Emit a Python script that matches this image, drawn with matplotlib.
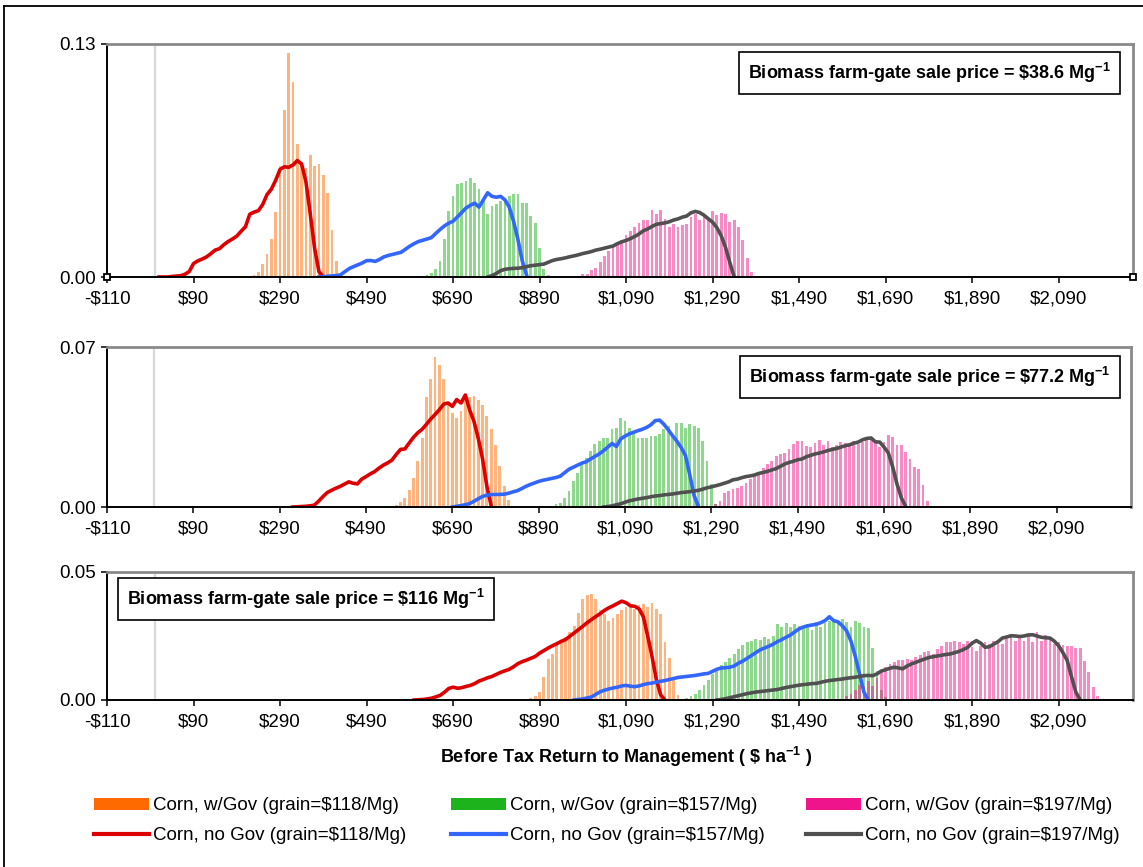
import numpy as np
import matplotlib
matplotlib.use("Agg")
import matplotlib.pyplot as plt
from matplotlib.patches import Patch
from matplotlib.lines import Line2D

plt.rcParams["font.family"] = ["Liberation Sans", "DejaVu Sans"]
plt.rcParams["mathtext.fontset"] = "custom"
plt.rcParams["mathtext.rm"] = "Liberation Sans"
plt.rcParams["mathtext.bf"] = "Liberation Sans:bold"

BIN = 10  # width of one return class, $ ha-1

# ---------------------------------------------------------------- x axis
tick_values = [-110, 90, 290, 490, 690, 890, 1090, 1290, 1490, 1690, 1890, 2090]
tick_labels = ["-\\$110", "\\$90", "\\$290", "\\$490", "\\$690", "\\$890", "\\$1,090",
               "\\$1,290", "\\$1,490", "\\$1,690", "\\$1,890", "\\$2,090"]
x_range = (-110, 2262)

# ---------------------------------------------------------------- panel 1 ($38.6 Mg-1)
orange1_from = 230
orange1 = [0.001, 0.003, 0.007, 0.013, 0.021, 0.036, 0.062, 0.093, 0.125, 0.109,
           0.074, 0.064, 0.061, 0.068, 0.062, 0.063, 0.057, 0.047, 0.026, 0.009]
green1_from = 620
green1 = [0.0006, 0.0011, 0.0024, 0.0043, 0.0089, 0.0210, 0.0368, 0.0450, 0.0517, 0.0526,
          0.0536, 0.0554, 0.0526, 0.0490, 0.0424, 0.0350, 0.0396, 0.0405, 0.0424, 0.0424,
          0.0452, 0.0461, 0.0461, 0.0415, 0.0415, 0.0340, 0.0303, 0.0164, 0.0043, 0.0009]
pink1_from = 990
pink1 = [0.0015, 0.0019, 0.0037, 0.0052, 0.0084, 0.0115, 0.0145, 0.0167, 0.0186, 0.0205,
         0.0233, 0.0257, 0.0279, 0.0301, 0.0316, 0.0316, 0.0376, 0.0353, 0.0376, 0.0326,
         0.0279, 0.0298, 0.0279, 0.0288, 0.0298, 0.0335, 0.0353, 0.0316, 0.0335, 0.0326,
         0.0368, 0.0344, 0.0357, 0.0353, 0.0307, 0.0316, 0.0279, 0.0208, 0.0108, 0.0028]
red1_from = 10
red1 = [0.0, 0.0, 0.0, 0.0003, 0.0005, 0.0007, 0.0015, 0.003, 0.0075, 0.009,
        0.010, 0.0112, 0.013, 0.0150, 0.0158, 0.018, 0.0198, 0.0212, 0.0228, 0.0255,
        0.028, 0.035, 0.0362, 0.037, 0.0405, 0.046, 0.049, 0.054, 0.060, 0.0615,
        0.0612, 0.0625, 0.065, 0.063, 0.053, 0.035, 0.016, 0.003, 0.0]
blue1_from = 380
blue1 = [0.0, 0.0002, 0.0004, 0.0006, 0.0008, 0.0012, 0.003, 0.0047, 0.0058, 0.0068,
         0.0078, 0.0091, 0.0092, 0.0087, 0.0098, 0.0112, 0.012, 0.0126, 0.0132, 0.0138,
         0.0155, 0.0172, 0.0186, 0.0198, 0.0205, 0.0212, 0.022, 0.0243, 0.0265, 0.0285,
         0.030, 0.0311, 0.0335, 0.036, 0.0385, 0.040, 0.0412, 0.039, 0.043, 0.047,
         0.045, 0.0445, 0.045, 0.043, 0.039, 0.031, 0.021, 0.009, 0.001]
gray1_from = 770
gray1 = [0.0, 0.0008, 0.002, 0.0035, 0.0043, 0.0046, 0.0048, 0.0049, 0.0052, 0.0058,
         0.0063, 0.0066, 0.0069, 0.0072, 0.0082, 0.0092, 0.0098, 0.0102, 0.0107, 0.0113,
         0.0118, 0.0124, 0.0131, 0.0136, 0.0142, 0.0150, 0.0155, 0.0161, 0.0167, 0.0173,
         0.0186, 0.0196, 0.0204, 0.0214, 0.0226, 0.0240, 0.0258, 0.0268, 0.0282, 0.0294,
         0.0298, 0.0302, 0.0308, 0.0318, 0.0324, 0.0334, 0.0340, 0.0358, 0.0366, 0.0360,
         0.0345, 0.0325, 0.0306, 0.0275, 0.0230, 0.0165, 0.0080, 0.0]

# ---------------------------------------------------------------- panel 2 ($77.2 Mg-1)
orange2_from = 540
orange2 = [0.0003, 0.0005, 0.0010, 0.0020, 0.0040, 0.0075, 0.0125, 0.0200, 0.0300, 0.0480,
           0.0560, 0.0655, 0.0620, 0.0560, 0.0450, 0.0410, 0.0390, 0.0420, 0.0470, 0.0480,
           0.0485, 0.0470, 0.0445, 0.0400, 0.0340, 0.0270, 0.0180, 0.0090, 0.0030]
green2_from = 920
green2 = [0.0004, 0.0012, 0.0019, 0.0041, 0.0070, 0.0114, 0.0150, 0.0187, 0.0216, 0.0245,
          0.0274, 0.0289, 0.0303, 0.0303, 0.0340, 0.0347, 0.0391, 0.0376, 0.0347, 0.0332,
          0.0303, 0.0303, 0.0303, 0.0310, 0.0310, 0.0318, 0.0340, 0.0354, 0.0318, 0.0369,
          0.0369, 0.0347, 0.0361, 0.0354, 0.0347, 0.0289, 0.0201, 0.0099, 0.0012]
pink2_from = 1300
pink2 = [0.0012, 0.0026, 0.0063, 0.0070, 0.0077, 0.0085, 0.0092, 0.0106, 0.0121, 0.0135,
         0.0150, 0.0172, 0.0187, 0.0201, 0.0223, 0.0230, 0.0238, 0.0252, 0.0274, 0.0289,
         0.0289, 0.0267, 0.0262, 0.0280, 0.0295, 0.0272, 0.0290, 0.0262, 0.0270, 0.0285,
         0.0278, 0.0265, 0.0290, 0.0277, 0.0284, 0.0299, 0.0292, 0.0284, 0.0262, 0.0284,
         0.0315, 0.0306, 0.0270, 0.0270, 0.0241, 0.0211, 0.0175, 0.0168, 0.0095, 0.0025]
red2_from = 320
red2 = [0.0, 0.0001, 0.0002, 0.0003, 0.0005, 0.0008, 0.0025, 0.0045, 0.0063, 0.0073,
        0.0082, 0.0090, 0.0100, 0.0110, 0.0104, 0.0101, 0.0122, 0.0133, 0.0145, 0.0155,
        0.0170, 0.0183, 0.0193, 0.0205, 0.0230, 0.0252, 0.0254, 0.0280, 0.0305, 0.0325,
        0.0340, 0.0362, 0.0385, 0.0405, 0.0426, 0.0450, 0.0455, 0.0440, 0.0470, 0.0455,
        0.0490, 0.0425, 0.0375, 0.0300, 0.0210, 0.0090, 0.0005]
blue2_from = 690
blue2 = [0.0, 0.0003, 0.0006, 0.0010, 0.0015, 0.0025, 0.0036, 0.0046, 0.0052, 0.0054,
         0.0055, 0.0055, 0.0056, 0.0060, 0.0066, 0.0071, 0.0080, 0.0090, 0.0098, 0.0105,
         0.0112, 0.0117, 0.0121, 0.0125, 0.0129, 0.0135, 0.0150, 0.0165, 0.0174, 0.0183,
         0.0192, 0.0198, 0.0210, 0.0221, 0.0232, 0.0246, 0.0262, 0.0278, 0.0265, 0.0298,
         0.0310, 0.0320, 0.0327, 0.0334, 0.0340, 0.0348, 0.0360, 0.0378, 0.0380, 0.0362,
         0.0338, 0.0312, 0.0288, 0.0260, 0.0225, 0.0140, 0.0050, 0.0002]
gray2_from = 1040
gray2 = [0.0, 0.0002, 0.0005, 0.0010, 0.0014, 0.0021, 0.0027, 0.0031, 0.0035, 0.0038,
         0.0041, 0.0045, 0.0048, 0.0050, 0.0053, 0.0055, 0.0057, 0.0060, 0.0063, 0.0065,
         0.0067, 0.0070, 0.0073, 0.0078, 0.0084, 0.0088, 0.0093, 0.0098, 0.0104, 0.0110,
         0.0119, 0.0122, 0.0128, 0.0133, 0.0136, 0.0140, 0.0147, 0.0151, 0.0156, 0.0162,
         0.0168, 0.0178, 0.0188, 0.0195, 0.0200, 0.0207, 0.0210, 0.0220, 0.0226, 0.0232,
         0.0236, 0.0241, 0.0247, 0.0252, 0.0256, 0.0262, 0.0268, 0.0272, 0.0279, 0.0284,
         0.0294, 0.0300, 0.0302, 0.0285, 0.0284, 0.0262, 0.0236, 0.0175, 0.0100, 0.0040,
         0.0003]

# ---------------------------------------------------------------- panel 3 ($116 Mg-1)
orange3_from = 870
orange3 = [0.0008, 0.0015, 0.0030, 0.0090, 0.0160, 0.0180, 0.0215, 0.0235, 0.0245, 0.0265,
           0.0290, 0.0340, 0.0395, 0.0410, 0.0415, 0.0395, 0.0350, 0.0335, 0.0310, 0.0320,
           0.0335, 0.0350, 0.0365, 0.0365, 0.0355, 0.0370, 0.0375, 0.0365, 0.0380, 0.0355,
           0.0335, 0.0225, 0.0165, 0.0080, 0.0020]
green3_from = 1230
green3 = [0.0008, 0.0015, 0.0025, 0.0040, 0.0060, 0.0080, 0.0100, 0.0120, 0.0135, 0.0150,
          0.0165, 0.0180, 0.0200, 0.0215, 0.0225, 0.0232, 0.0240, 0.0236, 0.0245, 0.0240,
          0.0250, 0.0295, 0.0285, 0.0300, 0.0285, 0.0295, 0.0290, 0.0280, 0.0295, 0.0275,
          0.0305, 0.0285, 0.0300, 0.0310, 0.0305, 0.0310, 0.0315, 0.0305, 0.0285, 0.0310,
          0.0300, 0.0285, 0.0280, 0.0205, 0.0115, 0.0040, 0.0010]
pink3_from = 1600
pink3 = [0.0015, 0.0025, 0.0040, 0.0060, 0.0055, 0.0075, 0.0055, 0.0085, 0.0115, 0.0128,
         0.0140, 0.0148, 0.0155, 0.0155, 0.0160, 0.0155, 0.0168, 0.0175, 0.0187, 0.0193,
         0.0180, 0.0200, 0.0212, 0.0225, 0.0225, 0.0232, 0.0225, 0.0218, 0.0232, 0.0206,
         0.0193, 0.0212, 0.0225, 0.0218, 0.0232, 0.0225, 0.0218, 0.0238, 0.0245, 0.0232,
         0.0242, 0.0232, 0.0249, 0.0225, 0.0265, 0.0232, 0.0252, 0.0238, 0.0218, 0.0225,
         0.0215, 0.0210, 0.0212, 0.0205, 0.0205, 0.0154, 0.0108, 0.0050, 0.0017]
red3_from = 600
red3 = [0.0, 0.0001, 0.0002, 0.0004, 0.0007, 0.0012, 0.0018, 0.0030, 0.0045, 0.0050,
        0.0046, 0.0048, 0.0053, 0.0057, 0.0064, 0.0074, 0.0080, 0.0087, 0.0092, 0.0100,
        0.0108, 0.0114, 0.0120, 0.0130, 0.0142, 0.0150, 0.0156, 0.0163, 0.0170, 0.0183,
        0.0193, 0.0203, 0.0212, 0.0220, 0.0229, 0.0236, 0.0249, 0.0262, 0.0275, 0.0288,
        0.0302, 0.0314, 0.0326, 0.0337, 0.0350, 0.0360, 0.0368, 0.0377, 0.0386, 0.0380,
        0.0368, 0.0366, 0.0356, 0.0325, 0.0250, 0.0170, 0.0080, 0.0020, 0.0]
blue3_from = 970
blue3 = [0.0, 0.0002, 0.0004, 0.0008, 0.0012, 0.0022, 0.0032, 0.0038, 0.0043, 0.0047,
         0.0050, 0.0055, 0.0057, 0.0054, 0.0052, 0.0055, 0.0060, 0.0064, 0.0066, 0.0070,
         0.0073, 0.0076, 0.0080, 0.0084, 0.0088, 0.0090, 0.0092, 0.0094, 0.0096, 0.0099,
         0.0102, 0.0104, 0.0112, 0.0120, 0.0125, 0.0126, 0.0128, 0.0133, 0.0144, 0.0152,
         0.0163, 0.0174, 0.0185, 0.0196, 0.0203, 0.0210, 0.0218, 0.0228, 0.0236, 0.0245,
         0.0254, 0.0266, 0.0278, 0.0285, 0.0290, 0.0293, 0.0296, 0.0302, 0.0310, 0.0325,
         0.0310, 0.0305, 0.0290, 0.0270, 0.0230, 0.0170, 0.0100, 0.0030, 0.0]
gray3_from = 1300
gray3 = [0.0, 0.0002, 0.0005, 0.0009, 0.0013, 0.0017, 0.0021, 0.0025, 0.0028, 0.0031,
         0.0033, 0.0035, 0.0037, 0.0039, 0.0041, 0.0045, 0.0049, 0.0052, 0.0055, 0.0058,
         0.0060, 0.0062, 0.0064, 0.0065, 0.0069, 0.0073, 0.0076, 0.0078, 0.0080, 0.0082,
         0.0085, 0.0087, 0.0089, 0.0092, 0.0095, 0.0096, 0.0095, 0.0102, 0.0113, 0.0118,
         0.0124, 0.0128, 0.0125, 0.0122, 0.0133, 0.0141, 0.0147, 0.0154, 0.0160, 0.0166,
         0.0169, 0.0172, 0.0175, 0.0178, 0.0180, 0.0185, 0.0190, 0.0197, 0.0206, 0.0222,
         0.0232, 0.0222, 0.0206, 0.0208, 0.0218, 0.0228, 0.0242, 0.0246, 0.0251, 0.0250,
         0.0248, 0.0250, 0.0254, 0.0255, 0.0250, 0.0245, 0.0243, 0.0242, 0.0230, 0.0212,
         0.0185, 0.0154, 0.0090, 0.0030, 0.0]

# ---------------------------------------------------------------- labels
panel_ymax = [0.13, 0.07, 0.05]
panel_ytick_labels = [["0.00", "0.13"], ["0.00", "0.07"], ["0.00", "0.05"]]
price_labels = ["\\$38.6", "\\$77.2", "\\$116"]
series_labels = ["Corn, w/Gov (grain=\\$118/Mg)", "Corn, no Gov (grain=\\$118/Mg)",
                 "Corn, w/Gov (grain=\\$157/Mg)", "Corn, no Gov (grain=\\$157/Mg)",
                 "Corn, w/Gov (grain=\\$197/Mg)", "Corn, no Gov (grain=\\$197/Mg)"]
x_title = "Before Tax Return to Management ( \\$ ha$^{\\mathbf{-1}}$ )"

# ---------------------------------------------------------------- style
BAR_COLORS = ["#FF6A00", "#1DB31D", "#F0148C"]
LINE_COLORS = ["#DD0000", "#3366FF", "#505050"]
W, H = 1143, 867


def fig_rect(left, top, right, bottom):
    return [left / W, 1 - bottom / H, (right - left) / W, (bottom - top) / H]


fig = plt.figure(figsize=(W / 100, H / 100), dpi=100)
fig.patch.set_facecolor("white")

# outer frame
fig.add_artist(Line2D([4 / W, 4 / W], [0, 1 - 6 / H], transform=fig.transFigure,
                      color="black", lw=1.3))
fig.add_artist(Line2D([4 / W, 1], [1 - 6 / H, 1 - 6 / H], transform=fig.transFigure,
                      color="black", lw=1.3))

panels = [
    dict(rect=fig_rect(107, 44, 1133, 277),
         bars=[(orange1_from, orange1), (green1_from, green1), (pink1_from, pink1)],
         lines=[(red1_from, red1), (blue1_from, blue1), (gray1_from, gray1)],
         box=(0.9786, 0.876, "right")),
    dict(rect=fig_rect(107, 347, 1131, 507),
         bars=[(orange2_from, orange2), (green2_from, green2), (pink2_from, pink2)],
         lines=[(red2_from, red2), (blue2_from, blue2), (gray2_from, gray2)],
         box=(0.980, 0.8125, "right")),
    dict(rect=fig_rect(107, 572, 1133, 700),
         bars=[(orange3_from, orange3), (green3_from, green3), (pink3_from, pink3)],
         lines=[(red3_from, red3), (blue3_from, blue3), (gray3_from, gray3)],
         box=(0.0195, 0.789, "left")),
]

for i, p in enumerate(panels):
    ax = fig.add_axes(p["rect"])
    ax.set_xlim(*x_range)
    ax.set_ylim(0, panel_ymax[i])

    for (start, vals), c in zip(p["bars"], BAR_COLORS):
        x = start + BIN * np.arange(len(vals))
        ax.bar(x, vals, width=BIN * 0.65, color=c, alpha=0.5, linewidth=0, zorder=2)
    for (start, vals), c in zip(p["lines"], LINE_COLORS):
        x = start + BIN * np.arange(len(vals))
        ax.plot(x, vals, color=c, lw=2.6, solid_joinstyle="round", zorder=4)

    ax.axvline(0, color="#D8D8D8", lw=1.6, zorder=1)

    for side in ("top", "right"):
        ax.spines[side].set_color("#8A8A8A")
        ax.spines[side].set_linewidth(2.0)
    for side in ("left", "bottom"):
        ax.spines[side].set_color("black")
        ax.spines[side].set_linewidth(1.4)
    ax.spines["bottom"].set_zorder(5)

    ax.set_xticks(tick_values)
    ax.set_xticklabels(tick_labels)
    ax.set_yticks([0, panel_ymax[i]])
    ax.set_yticklabels(panel_ytick_labels[i])
    ax.tick_params(axis="both", direction="out", length=4, width=1.1,
                   labelsize=13.5, pad=4, colors="black")
    ax.tick_params(axis="x", pad=6)

    bx, by, ha = p["box"]
    ax.text(bx, by, "Biomass farm-gate sale price = " + price_labels[i] + " Mg$^{\\mathbf{-1}}$",
            transform=ax.transAxes, ha=ha, va="center", fontsize=13, fontweight="bold",
            zorder=6,
            bbox=dict(boxstyle="square,pad=0.5", facecolor="white", edgecolor="black", lw=1.2))

    if i == 0:
        # corner handles on the first chart
        ax.plot([0, 1], [0, 0], transform=ax.transAxes, ls="none", marker="s", ms=5,
                mfc="white", mec="black", mew=1.3, clip_on=False, zorder=7)

fig.text(626 / W, 1 - 757 / H, x_title, ha="center", va="center", fontsize=13,
         fontweight="bold")

# legend: three columns of (bars, line) pairs
col_x = [86, 443, 798]
for k in range(3):
    handles = [Patch(facecolor=BAR_COLORS[k], edgecolor="none"),
               Line2D([], [], color=LINE_COLORS[k], lw=3.0)]
    fig.legend(handles, series_labels[2 * k:2 * k + 2], loc="upper left",
               bbox_to_anchor=(col_x[k] / W, 1 - 790 / H), frameon=False,
               fontsize=13.5, handlelength=2.95, handleheight=0.64, handletextpad=0.2,
               labelspacing=0.68, borderaxespad=0)

fig.savefig("out.png", dpi=100, facecolor="white")
